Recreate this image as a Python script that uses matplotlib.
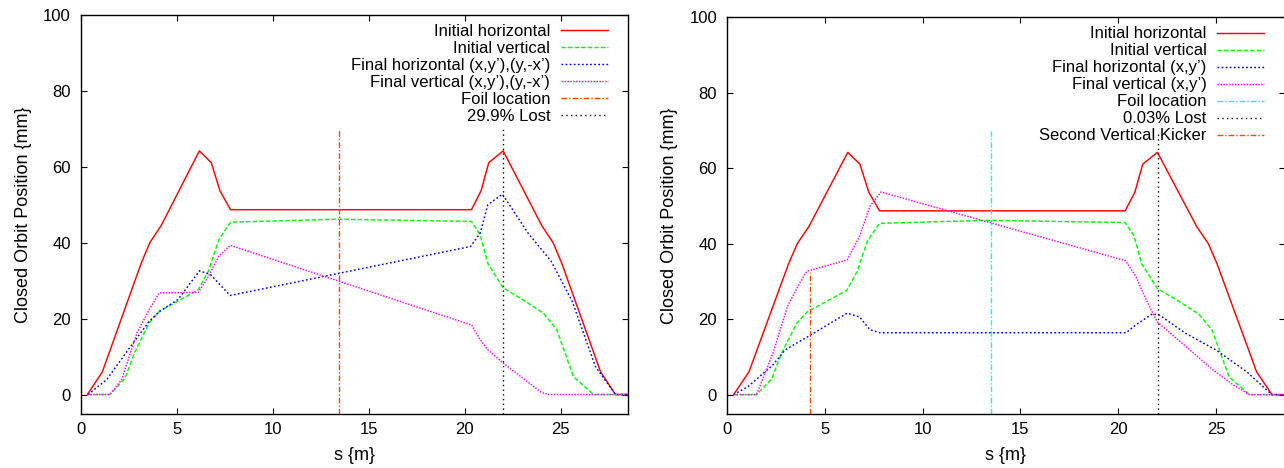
import matplotlib
matplotlib.use('Agg')
import matplotlib.pyplot as plt

plt.rcParams['font.family'] = ['Liberation Sans', 'DejaVu Sans']
plt.rcParams['font.size'] = 12

# closed orbit before injection (same lattice for both runs)
init_h_s = [0.35, 1.13, 3.15, 3.6, 4.2, 6.18, 6.8, 7.25, 7.8, 20.35, 20.85, 21.25, 22.0, 24.0, 24.6, 25.05, 27.07, 27.85, 28.5]
init_h_y = [0, 6.0, 34.6, 40.0, 44.6, 64.2, 61.1, 53.7, 48.7, 48.7, 53.7, 61.1, 64.2, 44.6, 40.0, 34.6, 6.0, 0, 0]

init_v_s = [0.35, 1.52, 2.3, 2.8, 3.57, 4.1, 6.12, 6.65, 7.19, 7.8, 13.4, 20.35, 20.8, 21.2, 22.0, 23.05, 24.1, 24.8, 25.66, 26.7, 28.5]
init_v_y = [0, 0, 4.2, 11.0, 18.9, 21.9, 27.6, 32.5, 40.8, 45.4, 46.2, 45.6, 42.1, 34.6, 28.1, 24.9, 21.4, 17.0, 4.7, 0, 0]

# run 1: (x,y'),(y,-x') painting, 29.9% lost
fin_h1_s = [0.38, 1.35, 2.5, 3.57, 4.1, 5.06, 6.19, 6.76, 7.78, 20.3, 20.8, 21.2, 21.96, 23.3, 24.5, 25.0, 25.6, 26.8, 27.85, 28.5]
fin_h1_y = [0, 3.9, 12.0, 19.3, 21.9, 25.0, 32.6, 31.6, 26.1, 39.0, 42.5, 50.0, 52.8, 42.5, 35.1, 30.3, 24.5, 7.4, 0, 0]

fin_v1_s = [0.35, 1.52, 2.13, 2.93, 3.57, 4.1, 6.12, 6.65, 7.19, 7.8, 20.36, 20.8, 21.2, 22.0, 24.0, 24.4, 28.5]
fin_v1_y = [0, 0, 3.9, 16.2, 22.4, 26.8, 26.9, 31.1, 36.4, 39.3, 18.3, 14.5, 11.8, 8.3, 0.5, 0, 0]

# run 2: (x,y') painting with second vertical kicker, 0.03% lost
fin_h2_s = [0.35, 1.1, 2.36, 2.99, 4.15, 6.15, 6.78, 7.31, 7.83, 20.4, 20.9, 21.74, 22.1, 23.42, 25.0, 26.55, 27.85, 28.5]
fin_h2_y = [0, 2.2, 7.9, 11.9, 15.4, 21.6, 20.6, 17.2, 16.4, 16.4, 18.5, 21.4, 21.1, 16.3, 11.8, 6.1, 0, 0]

fin_v2_s = [0.35, 1.52, 2.36, 3.1, 3.73, 4.09, 6.15, 6.78, 7.31, 7.88, 20.37, 20.9, 21.42, 21.99, 24.85, 25.87, 26.7, 28.5]
fin_v2_y = [0, 0, 11.0, 23.4, 29.6, 32.7, 35.7, 41.9, 49.9, 53.7, 35.5, 31.3, 25.2, 19.3, 6.5, 2.6, 0, 0]

foil_s = [13.45, 13.5]
lost_s = [22.0, 22.05]
lost_text = ['29.9% Lost', '0.03% Lost']
kicker_s = 4.25
marker_top = 70
kicker_top = 32.5

ymin, ymax = -5, 100
xmax = 28.5

fig = plt.figure(figsize=(12.84, 4.68), dpi=100)
ax1 = fig.add_axes([0.06285, 0.11645, 0.42625, 0.85150])
ax2 = fig.add_axes([0.56604, 0.11645, 0.43450, 0.84658])

panels = [
    (ax1, fin_h1_s, fin_h1_y, fin_v1_s, fin_v1_y,
     'Final horizontal (x,y\u2019),(y,-x\u2019)', 'Final vertical (x,y\u2019),(y,-x\u2019)', '#ff4500'),
    (ax2, fin_h2_s, fin_h2_y, fin_v2_s, fin_v2_y,
     'Final horizontal (x,y\u2019)', 'Final vertical (x,y\u2019)', '#00ffff'),
]

for i, (ax, hs, hy, vs, vy, h_lab, v_lab, foil_col) in enumerate(panels):
    ax.plot(init_h_s, init_h_y, color='#ff0000', lw=1.05, label='Initial horizontal')
    ax.plot(init_v_s, init_v_y, color='#00ff00', lw=1.05, dashes=(3, 1.5), label='Initial vertical')
    ax.plot(hs, hy, color='#0000ff', lw=1.05, dashes=(1.2, 1.6), label=h_lab)
    ax.plot(vs, vy, color='#ff00ff', lw=1.05, dashes=(1, 1), label=v_lab)
    ax.plot([foil_s[i], foil_s[i]], [ymin, marker_top], color=foil_col, lw=1.0,
            dashes=(4, 1.5, 1, 1.5), label='Foil location')
    ax.plot([lost_s[i], lost_s[i]], [ymin, marker_top], color='black', lw=1.0,
            dashes=(1, 2.4), label=lost_text[i])
    if i == 1:
        ax.plot([kicker_s, kicker_s], [ymin, kicker_top], color='#ff4500', lw=1.0,
                dashes=(4, 1.5, 1, 1.5), label='Second Vertical Kicker')

    ax.set_xlim(0, xmax)
    ax.set_ylim(ymin, ymax)
    ax.set_xticks([0, 5, 10, 15, 20, 25])
    ax.set_yticks([0, 20, 40, 60, 80, 100])
    ax.tick_params(direction='in', top=True, right=True, length=4, width=0.8,
                   labelsize=12)
    ax.tick_params(axis='x', pad=6)
    ax.tick_params(axis='y', pad=7)
    for sp in ax.spines.values():
        sp.set_linewidth(1.0)
    ax.set_xlabel('s {m}', fontsize=13, labelpad=7)
    ax.set_ylabel('Closed Orbit Position {mm}', fontsize=13, labelpad=8)

    ax.legend(loc='upper right', bbox_to_anchor=(0.963, 0.977), frameon=False,
              markerfirst=False, fontsize=12, handlelength=2.8, handletextpad=0.65,
              labelspacing=0.12, borderaxespad=0, borderpad=0)

fig.savefig('out.png', dpi=100)
